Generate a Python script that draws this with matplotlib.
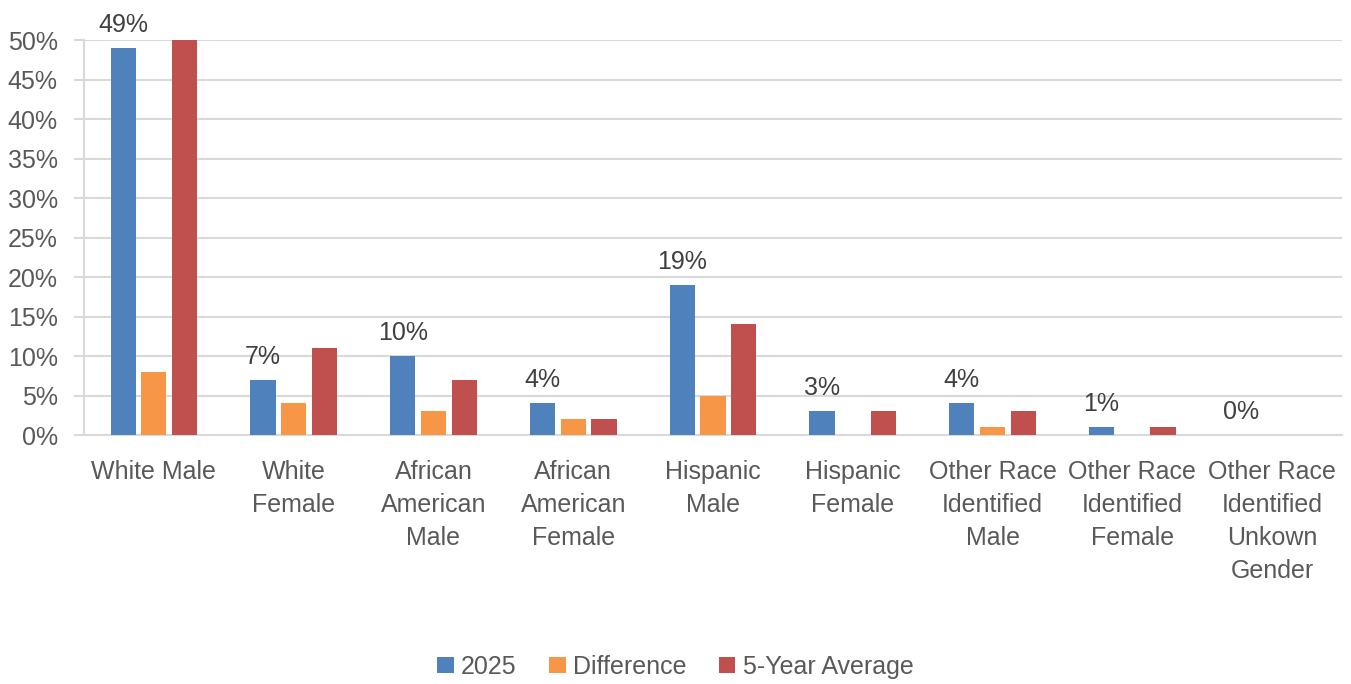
import numpy as np
import matplotlib.pyplot as plt
from matplotlib.ticker import PercentFormatter

plt.rcParams['font.family'] = ['Liberation Sans', 'DejaVu Sans']

# race / gender groups
categories = ['White Male', 'White\nFemale', 'African\nAmerican\nMale', 'African\nAmerican\nFemale',
              'Hispanic\nMale', 'Hispanic\nFemale', 'Other Race\nIdentified\nMale',
              'Other Race\nIdentified\nFemale', 'Other Race\nIdentified\nUnkown\nGender']
# percentages
y2025 = [49, 7, 10, 4, 19, 3, 4, 1, 0]
difference = [8, 4, 3, 2, 5, 0, 1, 0, 0]
five_year = [50, 11, 7, 2, 14, 3, 3, 1, 0]

fig = plt.figure(figsize=(13.51, 6.84), dpi=100)
ax = fig.add_axes([0.0622, 0.364, 0.9311, 0.5775])

x = np.arange(len(categories))
w = 0.18
step = 0.22
grey = '#595959'
fs = 18
b1 = ax.bar(x - step, y2025, w, color='#4f81bd', label='2025', zorder=3)
b2 = ax.bar(x, difference, w, color='#f79646', label='Difference', zorder=3)
b3 = ax.bar(x + step, five_year, w, color='#c0504d', label='5-Year Average', zorder=3)

# labels on the 2025 bars only
for xi, v in zip(x, y2025):
    ax.annotate(f'{v}%', (xi - step, v), xytext=(0, 8), textcoords='offset points',
                ha='center', va='bottom', fontsize=fs, color='#404040')

ax.set_xlim(-0.5, len(categories) - 0.5)
ax.set_ylim(0, 50)
ax.set_yticks(np.arange(0, 51, 5))
ax.yaxis.set_major_formatter(PercentFormatter(decimals=0))
ax.set_xticks(x)
ax.set_xticklabels(categories, fontsize=fs, color=grey, linespacing=1.47, va='top')
ax.tick_params(axis='y', labelsize=fs, labelcolor=grey, color='#d9d9d9', length=7, width=1.5, pad=12)
ax.tick_params(axis='x', length=0, pad=18)
ax.grid(axis='y', color='#d9d9d9', lw=1.5, zorder=0)
for s in ['top', 'right']:
    ax.spines[s].set_visible(False)
for s in ['left', 'bottom']:
    ax.spines[s].set_color('#d9d9d9')
    ax.spines[s].set_linewidth(1.5)

fig.legend(handles=[b1, b2, b3], loc='center', bbox_to_anchor=(0.5, 0.025), ncol=3,
           frameon=False, fontsize=fs, labelcolor=grey, handlelength=0.65, handleheight=0.65,
           handletextpad=0.3, columnspacing=1.3)

fig.savefig('out.png', dpi=100)
